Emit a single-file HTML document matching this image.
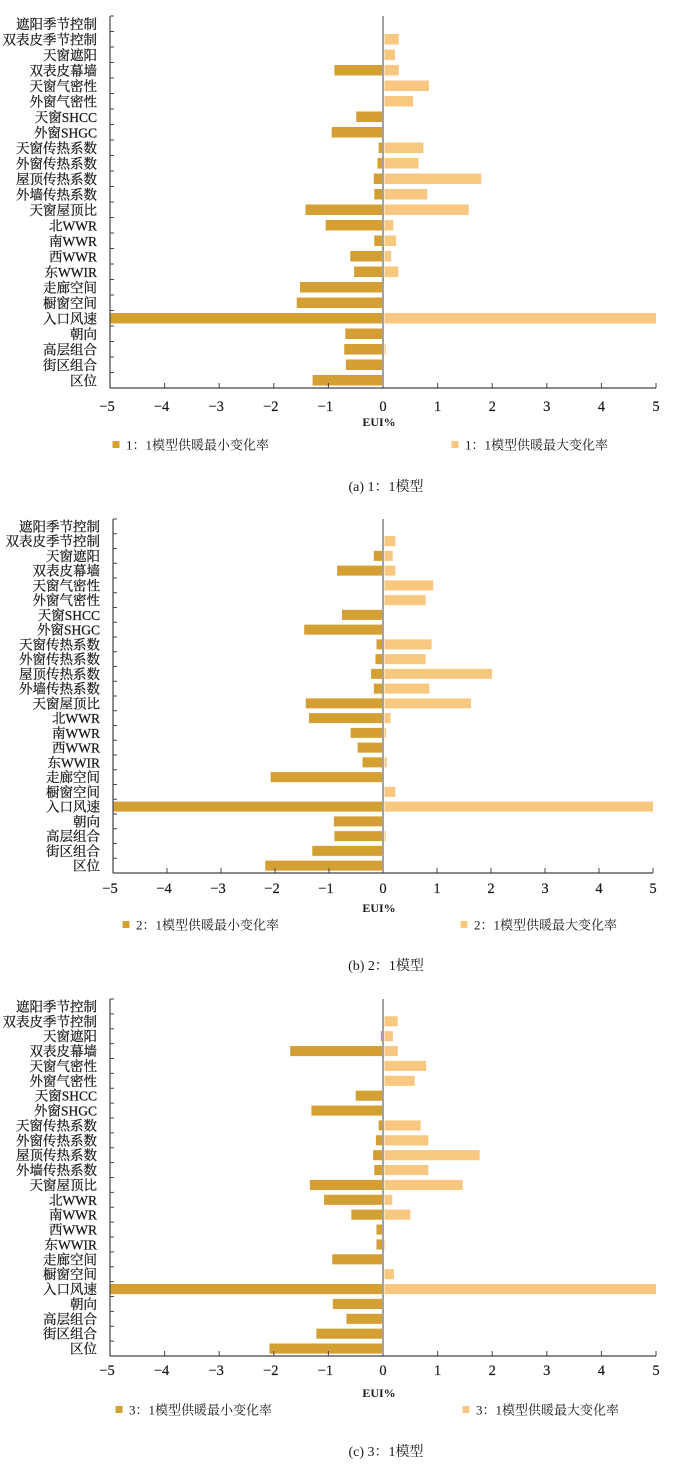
<!DOCTYPE html>
<html><head><meta charset="utf-8">
<style>
html,body{margin:0;padding:0;background:#fff;}
svg{display:block;}
text{font-family:"Liberation Serif","Noto Serif CJK SC","Noto Sans CJK SC",serif;fill:#1a1a1a;}
</style></head>
<body>
<svg id="fig" width="700" height="1465" viewBox="0 0 700 1465" xmlns="http://www.w3.org/2000/svg"></svg>
<script>
const categories = ["遮阳季节控制","双表皮季节控制","天窗遮阳","双表皮幕墙","天窗气密性","外窗气密性","天窗SHCC","外窗SHGC","天窗传热系数","外窗传热系数","屋顶传热系数","外墙传热系数","天窗屋顶比","北WWR","南WWR","西WWR","东WWIR","走廊空间","橱窗空间","入口风速","朝向","高层组合","街区组合","区位"];
const minA = [0,0,0,-0.89,0,0,-0.49,-0.94,-0.08,-0.10,-0.17,-0.16,-1.42,-1.05,-0.16,-0.60,-0.53,-1.52,-1.58,-5,-0.69,-0.71,-0.68,-1.29];
const maxA = [0,0.29,0.22,0.29,0.84,0.55,0,0,0.74,0.65,1.80,0.81,1.57,0.19,0.24,0.15,0.28,0,0,5,0,0.05,0,0];
const minB = [0,0,-0.17,-0.85,0,0,-0.76,-1.46,-0.12,-0.14,-0.22,-0.17,-1.43,-1.37,-0.60,-0.47,-0.38,-2.08,0,-5,-0.91,-0.90,-1.31,-2.18];
const maxB = [0,0.23,0.18,0.23,0.93,0.79,0,0,0.90,0.79,2.02,0.86,1.63,0.14,0.06,0,0.07,0,0.23,5,0,0.05,0,0];
const minC = [0,0,-0.04,-1.70,0,0,-0.50,-1.31,-0.08,-0.13,-0.18,-0.16,-1.34,-1.08,-0.58,-0.12,-0.12,-0.93,0,-5,-0.92,-0.67,-1.22,-2.08];
const maxC = [0,0.27,0.18,0.27,0.79,0.58,0,0,0.69,0.83,1.77,0.83,1.46,0.17,0.50,0,0.04,0,0.20,5,0,0,0,0];
const xTicks = [-5,-4,-3,-2,-1,0,1,2,3,4,5];
const tickLabels = ["\u22125","\u22124","\u22123","\u22122","\u22121","0","1","2","3","4","5"];
const minLabels = ["1：1模型供暖最小变化率","2：1模型供暖最小变化率","3：1模型供暖最小变化率"];
const maxLabels = ["1：1模型供暖最大变化率","2：1模型供暖最大变化率","3：1模型供暖最大变化率"];
const captions = ["(a) 1：1模型","(b) 2：1模型","(c) 3：1模型"];

const NS="http://www.w3.org/2000/svg";
const svg=document.getElementById('fig');
function mk(tag,attrs,parent){const e=document.createElementNS(NS,tag);for(const k in attrs)e.setAttribute(k,attrs[k]);(parent||svg).appendChild(e);return e;}
const DARK="#D4A033", LIGHT="#F8C881";

const panels=[
 {mins:minA,maxs:maxA,top:16,bottom:388,left:110,right:656,tickY:411,euiY:426,legY:445,m1:116,m2:455,capY:491},
 {mins:minB,maxs:maxB,top:519,bottom:873,left:113,right:653,tickY:893,euiY:912,legY:925,m1:126,m2:464,capY:970},
 {mins:minC,maxs:maxC,top:999,bottom:1356,left:110,right:656,tickY:1375,euiY:1397,legY:1410,m1:119,m2:466,capY:1456}
];

panels.forEach((p,pi)=>{
  const g=mk('g',{});
  
  
  const xs=v=>p.left+(v+5)/10*(p.right-p.left);
  const n=categories.length;
  const rowH=(p.bottom-p.top)/n;
  const rowC=i=>p.top+(i+0.5)*rowH;
  const bh=rowH*0.68;
  categories.forEach((c,i)=>{
    const vmin=p.mins[i], vmax=p.maxs[i];
    if(vmin<0){
      const r=mk('rect',{x:xs(vmin),y:rowC(i)-bh/2,width:xs(0)-1-xs(vmin),height:bh,fill:DARK},g);
      
      
    }
    if(vmax>0){
      const r=mk('rect',{x:xs(0)+1.5,y:rowC(i)-bh/2,width:Math.max(0,xs(vmax)-xs(0)-1.5),height:bh,fill:LIGHT},g);
      
      
    }
    const t=mk('text',{x:p.left-13,y:rowC(i)+5,'text-anchor':'end','font-size':'13.5','stroke':'#1a1a1a','stroke-width':'0.25'},g);
    t.textContent=c;
    
    
  });
  const ya=mk('line',{x1:p.left,y1:p.top,x2:p.left,y2:p.bottom,stroke:'#444','stroke-width':1.2},g);
  
  
  for(let i=0;i<=n;i++){
    mk('line',{x1:p.left,y1:p.top+i*rowH,x2:p.left+4,y2:p.top+i*rowH,stroke:'#444','stroke-width':1},g);
  }
  const zl=mk('line',{x1:xs(0),y1:p.top,x2:xs(0),y2:p.bottom,stroke:'#444','stroke-width':1},g);
  
  
  const xa=mk('line',{x1:p.left,y1:p.bottom,x2:p.right,y2:p.bottom,stroke:'#444','stroke-width':1.2},g);
  
  
  xTicks.forEach((v,k)=>{
    mk('line',{x1:xs(v),y1:p.bottom,x2:xs(v),y2:p.bottom-5,stroke:'#444','stroke-width':1},g);
    const t=mk('text',{x:xs(v)-(v<0?3:0),y:p.tickY,'text-anchor':'middle','font-size':'14.5','stroke':'#1a1a1a','stroke-width':'0.2'},g);
    t.textContent=tickLabels[k];
    
    
  });
  const eui=mk('text',{x:xs(0)-4,y:p.euiY,'text-anchor':'middle','font-size':'12','font-weight':'bold'},g);
  eui.textContent='EUI%';
  
  
  const l1=mk('g',{},g);
  
  
  mk('rect',{x:p.m1-3.5,y:p.legY-4,width:7,height:7,fill:DARK},l1);
  const lt1=mk('text',{x:p.m1+10,y:p.legY+4.5,'font-size':'13'},l1);
  lt1.textContent=minLabels[pi];
  const l2=mk('g',{},g);
  
  
  mk('rect',{x:p.m2-3.5,y:p.legY-4,width:7,height:7,fill:LIGHT},l2);
  const lt2=mk('text',{x:p.m2+10,y:p.legY+4.5,'font-size':'13'},l2);
  lt2.textContent=maxLabels[pi];
  const cap=mk('text',{x:386,y:p.capY,'text-anchor':'middle','font-size':'14'},g);
  cap.textContent=captions[pi];
  
  
});
</script>
</body></html>
